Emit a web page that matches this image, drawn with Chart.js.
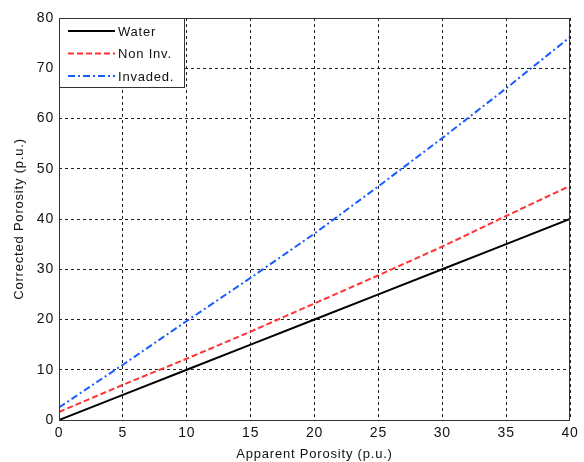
<!DOCTYPE html>
<html>
<head>
<meta charset="utf-8">
<script src="https://cdn.jsdelivr.net/npm/chart.js@4"></script>
<style>
  html, body { margin: 0; padding: 0; background: #fff; }
  #wrap { width: 584px; height: 462px; }
</style>
</head>
<body>
<div id="wrap"><canvas id="porosityChart" width="584" height="462"></canvas></div>
<script>
// values
const apparent = [0, 5, 10, 15, 20, 25, 30, 35, 40];
const water = [0, 5, 10, 15, 20, 25, 30, 35, 40];
const nonInv = [1.6, 7.0, 12.2, 17.6, 23.2, 28.8, 34.5, 40.6, 46.6];
const invaded = [2.5, 11.0, 19.7, 28.3, 37.1, 46.5, 56.1, 66.0, 76.2];
const seriesNames = ["Water", "Non Inv.", "Invaded."];

const FONT = "'Liberation Sans', Arial, sans-serif";

const toPoints = (ys) => apparent.map((x, i) => ({ x: x, y: ys[i] }));

// matlab style box + legend drawn on top of the plot
const boxLegend = {
  id: "boxLegend",
  beforeDraw(chart) {
    chart.ctx.letterSpacing = "0.8px";
  },
  afterDraw(chart) {
    const { ctx, chartArea: a } = chart;
    ctx.save();
    ctx.setLineDash([]);
    ctx.strokeStyle = "#333";
    ctx.lineWidth = 1;
    ctx.strokeRect(a.left + 0.5, a.top + 0.5, a.right - a.left - 1, a.bottom - a.top);

    // legend
    const lx = a.left, ly = a.top, lw = 125, lh = 69;
    ctx.fillStyle = "#fff";
    ctx.fillRect(lx, ly, lw, lh);
    ctx.strokeRect(lx + 0.5, ly + 0.5, lw, lh);
    ctx.font = "13px " + FONT;
    ctx.textBaseline = "middle";
    ctx.textAlign = "left";
    chart.data.datasets.forEach((ds, i) => {
      const y = ly + 13 + i * 22.5;
      ctx.beginPath();
      ctx.strokeStyle = ds.borderColor;
      ctx.lineWidth = 2;
      ctx.setLineDash(ds.borderDash || []);
      ctx.moveTo(lx + 9, y);
      ctx.lineTo(lx + 56, y);
      ctx.stroke();
      ctx.fillStyle = "#111";
      ctx.fillText(ds.label, lx + 59, y + 1);
    });
    ctx.restore();
  },
};

const ctx = document.getElementById("porosityChart").getContext("2d");
new Chart(ctx, {
  type: "line",
  data: {
    datasets: [
      {
        label: seriesNames[0],
        data: toPoints(water),
        borderColor: "#000000",
        borderWidth: 2,
        pointRadius: 0,
      },
      {
        label: seriesNames[1],
        data: toPoints(nonInv),
        borderColor: "#ff3333",
        borderWidth: 2,
        borderDash: [6, 3],
        pointRadius: 0,
      },
      {
        label: seriesNames[2],
        data: toPoints(invaded),
        borderColor: "#1a5cff",
        borderWidth: 2,
        borderDash: [7, 3, 2, 3],
        pointRadius: 0,
      },
    ],
  },
  options: {
    responsive: false,
    animation: false,
    layout: { padding: { top: 18, right: 14, left: 0, bottom: 0 } },
    plugins: {
      legend: { display: false },
      tooltip: { enabled: false },
    },
    scales: {
      x: {
        type: "linear",
        min: 0,
        max: 40,
        afterFit: (s) => { s.height = 42; },
        ticks: { stepSize: 5, color: "#111", padding: 5, font: { family: FONT, size: 14 } },
        grid: { color: "#222", lineWidth: 1, drawTicks: false },
        border: { display: false, dash: [3, 3] },
        title: {
          display: true,
          text: "Apparent Porosity (p.u.)",
          color: "#111",
          font: { family: FONT, size: 13 },
          padding: { top: 2, bottom: 0 },
        },
      },
      y: {
        min: 0,
        max: 80,
        afterFit: (s) => { s.width = 59; },
        ticks: { stepSize: 10, color: "#111", padding: 5, font: { family: FONT, size: 14 } },
        grid: { color: "#222", lineWidth: 1, drawTicks: false },
        border: { display: false, dash: [3, 3] },
        title: {
          display: true,
          text: "Corrected Porosity (p.u.)",
          color: "#111",
          font: { family: FONT, size: 13 },
          padding: { top: 12, bottom: 4 },
        },
      },
    },
  },
  plugins: [boxLegend],
});
</script>
</body>
</html>
